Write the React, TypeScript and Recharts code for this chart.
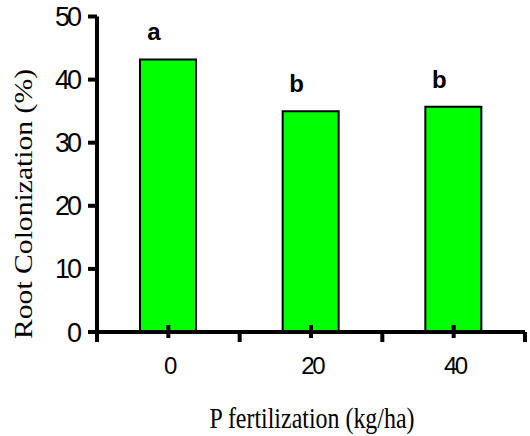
import React from 'react';
import { BarChart, Bar, XAxis, YAxis, LabelList } from 'recharts';

const categories = ['0', '20', '40'];
const colonization = [43.2, 35.0, 35.7];
const groupLetters = ['a', 'b', 'b'];
const yTicks = [0, 10, 20, 30, 40, 50];

const data = categories.map((c, i) => ({ dose: c, value: colonization[i], letter: groupLetters[i] }));

const SANS = '"Liberation Sans", Arial, sans-serif';
const SERIF = '"Liberation Serif", "Times New Roman", serif';

const XTick = (props: any) => {
  const { x, y, payload, index, visibleTicksCount } = props;
  const half = payload && typeof payload.offset === 'number' && payload.offset > 0 ? payload.offset : 71.3;
  const last = index === (visibleTicksCount ?? categories.length) - 1;
  return (
    <g>
      <line x1={x} x2={x} y1={y - 7} y2={y + 6} stroke="#000" strokeWidth={4} />
      <line x1={x - half} x2={x - half} y1={y} y2={y + 10} stroke="#000" strokeWidth={4} />
      {last && <line x1={x + half} x2={x + half} y1={y} y2={y + 10} stroke="#000" strokeWidth={4} />}
      <text x={x + 1.2} y={y + 41.5} textAnchor="middle" fill="#000" fontFamily={SANS} fontSize={24} letterSpacing={-2.5}>
        {payload.value}
      </text>
    </g>
  );
};

const YTick = (props: any) => {
  const { x, y, payload } = props;
  return (
    <text x={x} y={y + 9.5} textAnchor="end" fill="#000" fontFamily={SANS} fontSize={27} letterSpacing={-3}>
      {payload.value}
    </text>
  );
};

const LetterLabel = (p: any) => (
  <text
    x={p.x + p.width / 2 - 14}
    y={p.y - 19}
    textAnchor="middle"
    fill="#000"
    fontWeight="bold"
    fontSize={24}
    fontFamily={SANS}
  >
    {p.value}
  </text>
);

export default function App() {
  return (
    <div style={{ position: 'absolute', left: 0, top: 0, width: 530, height: 436, background: '#fff' }}>
      <BarChart width={530} height={436} data={data} margin={{ top: 16.5, right: 5, left: 0, bottom: 0 }}>
        <XAxis
          dataKey="dose"
          type="category"
          height={104}
          interval={0}
          tickSize={0}
          tickMargin={0}
          tickLine={false}
          axisLine={{ stroke: '#000', strokeWidth: 4 }}
          tick={<XTick />}
          label={{
            content: () => (
              <text
                x={312}
                y={428}
                textAnchor="middle"
                fill="#000"
                fontFamily={SERIF}
                fontSize={30}
                textLength={205}
                lengthAdjust="spacingAndGlyphs"
              >
                P fertilization (kg/ha)
              </text>
            ),
          }}
        />
        <YAxis
          type="number"
          domain={[0, 50]}
          ticks={yTicks}
          interval={0}
          width={97}
          tickSize={9}
          tickMargin={9}
          tickLine={{ stroke: '#000', strokeWidth: 4 }}
          axisLine={{ stroke: '#000', strokeWidth: 4 }}
          tick={<YTick />}
          label={{
            content: () => (
              <text
                transform="translate(32,204) rotate(-90)"
                textAnchor="middle"
                fill="#000"
                fontFamily={SERIF}
                fontSize={25}
                textLength={270}
                lengthAdjust="spacingAndGlyphs"
              >
                Root Colonization (%)
              </text>
            ),
          }}
        />
        <Bar dataKey="value" fill="#00ff00" stroke="#000" strokeWidth={2} barSize={56} isAnimationActive={false}>
          <LabelList dataKey="letter" content={<LetterLabel />} />
        </Bar>
      </BarChart>
    </div>
  );
}
